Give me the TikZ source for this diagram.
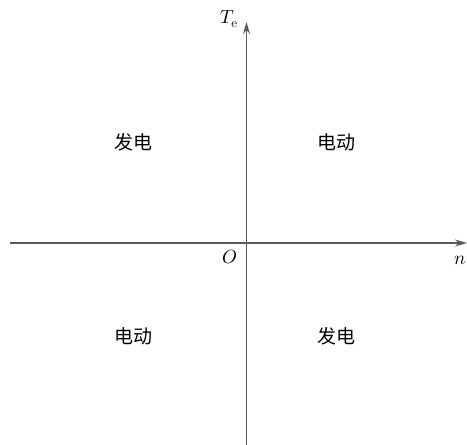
\documentclass[tikz,border=0pt]{standalone}
\usepackage{fontspec}
\usepackage{unicode-math}
\setmathfont{Latin Modern Math}
\newfontfamily\cjk{Noto Sans CJK SC}
\usetikzlibrary{arrows.meta}
\begin{document}
\begin{tikzpicture}[x=1pt,y=-1pt,
  axis/.style={draw=black!65, line width=1.6pt, -{Stealth[length=12pt,width=7pt]}},
  region/.style={font=\cjk\fontsize{19}{19}\selectfont},
  lbl/.style={font=\fontsize{19}{19}\selectfont, inner sep=0pt}]
\useasboundingbox (0,0) rectangle (467,445);
\coordinate (xs) at (10,243);
\coordinate (xe) at (467,243);
\coordinate (ys) at (246.5,445);
\coordinate (ye) at (246.5,22);
\draw[axis] (xs) -- (xe);
\draw[axis] (ys) -- (ye);
\node[lbl] (te) at (229,19) {$T_{\mathrm{e}}$};
\node[lbl] (o) at (230,257) {$O$};
\node[lbl, anchor=east] (n) at (466.5,260) {$n$};
\node[region] (q2) at (133,142) {发电};
\node[region] (q1) at (336,142) {电动};
\node[region] (q3) at (133,336) {电动};
\node[region] (q4) at (336,336) {发电};
\end{tikzpicture}
\end{document}
